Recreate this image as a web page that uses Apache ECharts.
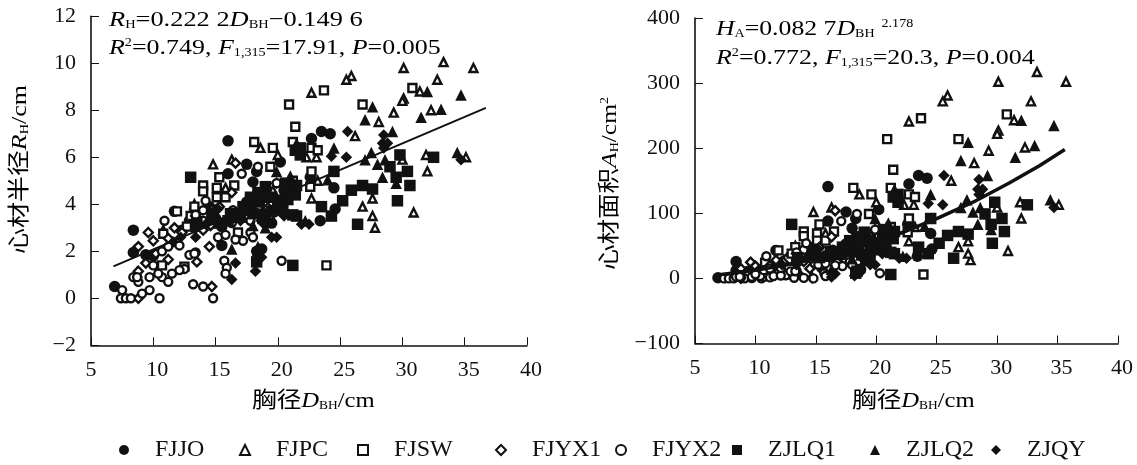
<!DOCTYPE html>
<html><head><meta charset="utf-8">
<style>html,body{margin:0;padding:0;background:#fff}#c{width:1137px;height:465px}</style>
<script src="https://cdn.jsdelivr.net/npm/echarts@6/dist/echarts.min.js"></script></head>
<body><div id="c"></div>
<script>
// each row: D_BH (cm), R_H (cm), A_H (cm2)
const FJJO=[[16,6.7,141],[17.5,5.7,102],[20.2,5.8,106],[16,5.3,88],[18.3,5.4,92],[23.5,7.1,158],[24.2,7,154],[22.7,6.8,145],[22.6,5.15,83],[24.5,4.7,69],[24.6,3.8,45],[23.4,3.3,34],[8.4,2.9,26],[6.9,0.5,1],[8.4,1.95,12],[9.4,1.85,11],[15.5,2.25,16],[18.7,2.1,14],[18.3,2,13],[19.4,3.25,33],[15.5,3.05,29],[11.7,3.7,43],[18,4.95,77],[18,4.05,52],[13.3,3,28],[12.3,2.9,26],[14.5,3.9,48],[16.8,3.6,41],[17.5,4.1,53],[19.2,4.4,61],[20.5,4.6,66],[11.5,2.4,18],[10,1.8,10],[12.9,3.3,34],[15,3.4,36],[19.5,3.2,32],[19,3.7,43]];
const FJPC=[[30.1,9.8,302],[33.3,10.05,317],[35.7,9.8,302],[25.9,9.46,281],[25.5,9.3,272],[22.7,8.75,241],[32.8,9.3,272],[31.4,8.8,243],[30.1,8.5,227],[30,8.4,222],[29.3,7.9,196],[32.3,8,201],[28.1,7.5,177],[26.2,6.9,150],[31.9,6.1,117],[35.1,6,113],[32,5.4,92],[30,5.9,109],[23.2,5,79],[30.9,3.65,42],[27.8,3,28],[27.6,3.5,38],[26.8,3.9,48],[27.6,4.25,57],[22.7,4.25,57],[14.8,5.7,102],[16.3,5.9,109],[18.6,6.4,129],[20,6.1,117],[22.3,6,113],[23.1,6,113],[8.7,1.1,4],[10.8,2.9,26],[13.3,4,50],[15.8,4.7,69],[19.6,4.6,66]];
const FJSW=[[23.7,8.85,246],[20.9,8.25,214],[26.8,8.25,214],[30.8,8.95,252],[21.4,7.3,167],[21.2,6.65,139],[22.7,6.4,129],[23.2,6.3,125],[22.7,5.4,92],[22.6,4.75,71],[23.9,1.4,6],[18.1,6.65,139],[19.6,6.4,129],[19.4,5.6,99],[21.2,5,79],[15.3,5.15,83],[14,4.8,72],[14,4.55,65],[15.1,4.7,69],[15.1,4.3,58],[15.8,4.3,58],[16.5,4.8,72],[13.3,3.9,48],[14.6,3.2,32],[16.8,2.8,25],[11.9,3.7,43],[12.7,3.05,29],[13,3.5,38],[10.8,2.75,24],[10.7,1.4,6],[12.5,1.35,6]];
const FJYX1=[[9.6,2.8,25],[10,2.45,19],[8.8,2.2,15],[9.4,1.5,7],[11.2,1.65,9],[10.2,1.9,11],[8.8,1.15,4],[8.8,0,0],[14.7,0.5,1],[13.5,1.55,8],[14.5,2.2,15],[11.7,3,28],[14,2.9,26],[14.6,3.1,30],[15,3.75,44],[13.4,3.5,38],[11.2,2.55,20],[12.3,2.8,25],[16.6,5.75,104],[15.3,3.9,48],[14.7,3.75,44],[16.3,4.5,64],[18.7,3.3,34],[19.2,3.85,47],[19.5,3.55,40],[19.9,4.9,75]];
const FJYX2=[[7.5,0.35,0.4],[7.4,0,0],[7.8,0,0],[8.2,0,0],[9.1,0.2,0.1],[9.7,0.35,0.4],[10.5,0,0],[14.8,0,0],[13.2,0.6,1],[14,0.5,0.8],[8.4,0.9,2.5],[8.8,0.7,1.5],[8.7,0.9,2.5],[9.7,0.9,2.5],[10.7,0.9,2.5],[11.2,0.7,1.5],[10.4,1.05,3.5],[11.5,1.05,3.5],[12.5,1.25,4.9],[12.1,1.2,4.5],[10,1.4,6.2],[12.9,1.85,10.8],[13.4,1.95,11.9],[10.7,2,12.6],[11.2,2.2,15.2],[12.1,2.25,15.9],[10.9,3.3,34],[14,3.3,34],[14,3.75,44],[14.2,4.15,54],[15.2,2.6,21],[15.8,2.7,23],[16.3,3.2,32],[17.8,3.3,34],[17.8,2.8,25],[17.2,2.45,19],[16.6,2.5,20],[18,2.6,21],[15.7,1.6,8],[15.9,1.3,5],[15.8,1.05,3.5],[20.3,1.6,8],[18.4,5.6,99],[17.1,5.3,88],[13.4,3.55,40],[16.4,3.75,44],[18.7,4.2,55],[19.8,4.25,57],[19.9,4.9,75],[13.3,1.9,11]];
const ZJLQ1=[[13,5.15,83],[26.4,3.15,31],[21.2,1.4,6],[24.3,3.5,38],[23.5,3.9,48],[21.5,3.5,38],[25.2,4.15,54],[25.9,4.6,66],[26.8,4.8,72],[27.6,4.65,68],[24.5,5.4,92],[29.6,4.15,54],[30.6,4.8,72],[29.5,5.15,83],[30.4,5.4,92],[29,5.6,99],[29.8,6.1,117],[32.5,6,113],[20.3,3.8,45],[18.3,1.55,8],[18.4,1.9,11],[19,4.75,71],[17.2,3.9,48],[21.8,6.1,117],[21.8,6.4,129],[21.4,6.3,125],[21.2,4.5,64],[20.6,4.6,66],[20.6,4.9,75],[17,3.45,37],[13.5,3.2,32],[21.4,4.4,61],[20.4,3.75,44],[21.2,3.55,40],[16.2,3.6,41],[17.4,3.75,44],[16.8,3.45,37],[19.5,4.3,58],[18.4,4.5,64],[18,3.6,41],[18.8,3.4,36],[19.5,3.7,43],[20,4.1,53],[18.5,4.1,53],[17.8,4.3,58],[16,3.3,34],[15.3,3.2,32],[14.7,3.6,41],[20.8,4.2,55],[21.5,4.8,72]];
const ZJLQ2=[[34.7,8.65,235],[32,8.8,243],[33.1,8.05,204],[31.5,7.7,186],[27.6,8.15,209],[27,7.6,181],[29.2,7.1,158],[24.5,6.4,129],[34.4,6.2,121],[28.6,5.9,109],[27.5,6.2,121],[27,5.9,109],[28,5.7,102],[28.4,5.15,83],[29.5,4.9,75],[24,5.05,80],[21.5,6.6,137],[21.9,6.3,125],[16.3,2.1,14],[18.4,2.2,15],[22.2,3.3,34],[19.9,5.4,92],[21,5.2,85],[17.6,3.9,48],[18,3.1,30],[19,3,28],[20.3,4.3,58],[17,3.7,43],[15,3.5,38]];
const ZJQY=[[25.6,7.1,158],[28.5,6.95,152],[28.4,6.6,137],[28.8,6.6,137],[24.3,6.05,115],[25.5,6,113],[34.7,5.9,109],[28.5,6.4,129],[21.9,3.15,31],[22.5,3.15,31],[19.9,2.6,21],[19.5,2.6,21],[16.6,1.5,7],[18.2,1.15,4],[16.3,0.8,2],[18.7,1.75,10],[15.2,3.8,45],[18.8,3.2,32],[17,3.3,34],[12.2,2.6,21],[13.4,2.6,21],[14.3,3.2,32],[18.5,3.6,41],[19.8,3.9,48],[20.5,3.5,38]];
const fitR=[[6.8,1.36],[36.7,8.1]];
const fitA=[[7,5.7],[10,12.5],[13,22],[16,34.7],[19,50.4],[22,69.4],[25,91.7],[28,117],[31,146.5],[33.5,173],[35.6,198]];

const SERIF='"Liberation Serif","Noto Sans CJK SC",serif';
const groups=[
 {name:'FJJO',data:FJJO,symbol:'circle',open:false},
 {name:'FJPC',data:FJPC,symbol:'triangle',open:true},
 {name:'FJSW',data:FJSW,symbol:'rect',open:true},
 {name:'FJYX1',data:FJYX1,symbol:'diamond',open:true},
 {name:'FJYX2',data:FJYX2,symbol:'circle',open:true},
 {name:'ZJLQ1',data:ZJLQ1,symbol:'rect',open:false},
 {name:'ZJLQ2',data:ZJLQ2,symbol:'triangle',open:false},
 {name:'ZJQY',data:ZJQY,symbol:'diamond',open:false}
];
const legendLeft=[114,234,352,490,610,727,865,986];
const ink='#111';
const series=[];
[0,1].forEach(k=>{
 groups.forEach(g=>{
  series.push({type:'scatter',name:g.name,xAxisIndex:k,yAxisIndex:k,
   data:g.data.map(r=>[r[0],r[k+1]]),
   symbol:g.symbol,symbolSize:g.open?(g.symbol==='diamond'?9:8):11.5,
   itemStyle:g.open?{color:'#fff',borderColor:ink,borderWidth:2.4,opacity:1}:{color:ink,opacity:1},
   animation:false,silent:true});
 });
});
series.push({type:'line',xAxisIndex:0,yAxisIndex:0,data:fitR,symbol:'none',lineStyle:{color:ink,width:2},animation:false,z:3});
series.push({type:'line',xAxisIndex:1,yAxisIndex:1,data:fitA,symbol:'none',smooth:false,lineStyle:{color:ink,width:3.6},animation:false,z:3});

const richText={
 m:{fontFamily:SERIF,fontSize:22,color:ink},
 i:{fontFamily:SERIF,fontSize:22,fontStyle:'italic',color:ink},
 s:{fontFamily:SERIF,fontSize:12,color:ink,verticalAlign:'bottom',lineHeight:18},
 p:{fontFamily:SERIF,fontSize:12,color:ink,verticalAlign:'top',lineHeight:16}
};
const tickRich={t:{fontFamily:SERIF,fontSize:22,color:ink,padding:[0,0,0,8]},f:{fontFamily:SERIF,fontSize:22,color:ink}};
function xAx(gi){return {type:'value',gridIndex:gi,min:5,max:40,interval:5,
  axisLine:{onZero:false,lineStyle:{color:ink,width:1.6}},
  axisTick:{inside:true,length:8,lineStyle:{color:ink,width:1}},
  splitLine:{show:false},
  axisLabel:{margin:14,rich:tickRich,formatter:v=>v===5?'{f|5}':'{t|'+v+'}'}};}
function yAx(gi,min,max,step){return {type:'value',gridIndex:gi,min:min,max:max,interval:step,
  axisLine:{onZero:false,lineStyle:{color:ink,width:1.6}},
  axisTick:{inside:true,length:8,lineStyle:{color:ink,width:1}},
  splitLine:{show:false},
  axisLabel:{fontFamily:SERIF,fontSize:22,color:ink,margin:15,formatter:v=>String(v).replace('-','−')}};}
function label(x,y,text,sx,rot){return {type:'text',x:x,y:y,scaleX:sx,rotation:rot||0,silent:true,style:{rich:richText,text:text}};}

const option={
 backgroundColor:'#fff',
 animation:false,
 grid:[{left:91,top:16.3,width:436,height:329},{left:695,top:18,width:423,height:325.5}],
 xAxis:[xAx(0),xAx(1)],
 yAxis:[yAx(0,-2,12,2),yAx(1,-100,400,100)],
 legend:groups.map((g,i)=>({data:[g.name],left:legendLeft[i],top:433,itemWidth:10,itemHeight:10,selectedMode:false,
   textStyle:{fontFamily:SERIF,fontSize:24,color:ink,padding:[0,0,0,21]}})),
 series:series,
 graphic:[
  label(109,9,'{i|R}{s|H}{m|=0.222 2}{i|D}{s|BH}{m|−0.149 6}',1.2),
  label(109,37,'{i|R}{p|2}{m|=0.749, }{i|F}{s|1,315}{m|=17.91, }{i|P}{m|=0.005}',1.18),
  label(716,18,'{i|H}{s|A}{m|=0.082 7}{i|D}{s|BH}{p|  2.178}',1.17),
  label(716,47,'{i|R}{p|2}{m|=0.772, }{i|F}{s|1,315}{m|=20.3, }{i|P}{m|=0.004}',1.18),
  label(252,390,'{m|胸径}{i|D}{s|BH}{m|/cm}',1.12),
  label(852,390,'{m|胸径}{i|D}{s|BH}{m|/cm}',1.12),
  label(9,254,'{m|心材半径}{i|R}{s|H}{m|/cm}',1.18,Math.PI/2),
  label(599,270,'{m|心材面积}{i|A}{s|H}{m|/cm}{p|2}',1.16,Math.PI/2)
 ]
};
echarts.init(document.getElementById('c'),null,{renderer:'canvas'}).setOption(option);
</script></body></html>
